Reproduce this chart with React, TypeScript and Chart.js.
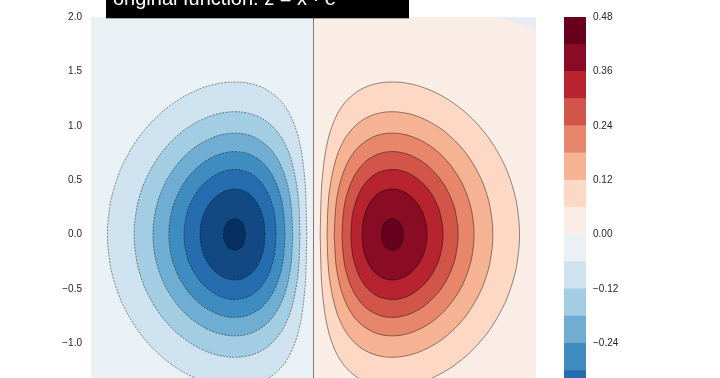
import React, { useEffect, useRef } from "react";
import { Chart, registerables } from "chart.js";

Chart.register(...registerables);

const FONT = '"Liberation Sans", Arial, "DejaVu Sans", sans-serif';

// contour levels of the filled contour plot
const levels = [-0.48, -0.42, -0.36, -0.3, -0.24, -0.18, -0.12, -0.06, 0, 0.06, 0.12, 0.18, 0.24, 0.3, 0.36, 0.42, 0.48];
// colour of each band between consecutive levels (RdBu_r)
const bandColors = [
  "#053061", "#124983", "#266daf", "#3e8cc0", "#6faed2", "#a2cde3", "#cee3ef", "#eaf1f5",
  "#f9ede6", "#fdd8c4", "#f6b393", "#e7866a", "#d15548", "#b82330", "#890b24", "#67001f",
];
const colorbarTicks = [0.48, 0.36, 0.24, 0.12, 0, -0.12, -0.24, -0.36, -0.48];
const xRange = [-2, 2];
const yRange = [-2, 2];

// Upper halves (y >= 0) of the contour lines of the positive lobe.
// The negative lobe is its mirror image (dashed contours, blue bands).
const contour06 = [[0.06, 0], [0.07, 0.386], [0.08, 0.53], [0.1, 0.708], [0.12, 0.824], [0.15, 0.945], [0.2, 1.079], [0.25, 1.168], [0.3, 1.233], [0.4, 1.318], [0.5, 1.368], [0.6, 1.394], [0.7, 1.402], [0.8, 1.397], [0.9, 1.378], [1.0, 1.347], [1.1, 1.303], [1.2, 1.247], [1.3, 1.177], [1.4, 1.091], [1.5, 0.984], [1.6, 0.851], [1.7, 0.674], [1.75, 0.557], [1.8, 0.401], [1.83, 0.262], [1.852, 0]];
const contour12 = [[0.122, 0], [0.13, 0.251], [0.15, 0.448], [0.2, 0.686], [0.25, 0.819], [0.3, 0.909], [0.4, 1.022], [0.5, 1.085], [0.6, 1.118], [0.7, 1.129], [0.8, 1.121], [0.9, 1.098], [1.0, 1.058], [1.1, 1.003], [1.2, 0.929], [1.3, 0.832], [1.4, 0.705], [1.5, 0.525], [1.55, 0.395], [1.59, 0.236], [1.612, 0]];
const contour18 = [[0.186, 0], [0.2, 0.256], [0.22, 0.39], [0.25, 0.516], [0.3, 0.649], [0.35, 0.737], [0.4, 0.799], [0.5, 0.878], [0.6, 0.919], [0.7, 0.932], [0.8, 0.923], [0.9, 0.894], [1.0, 0.845], [1.1, 0.775], [1.2, 0.676], [1.3, 0.536], [1.35, 0.439], [1.4, 0.302], [1.43, 0.166], [1.443, 0]];
const contour24 = [[0.256, 0], [0.27, 0.212], [0.3, 0.365], [0.35, 0.505], [0.4, 0.592], [0.45, 0.653], [0.5, 0.696], [0.6, 0.746], [0.7, 0.762], [0.8, 0.751], [0.9, 0.715], [1.0, 0.654], [1.1, 0.559], [1.15, 0.494], [1.2, 0.412], [1.25, 0.296], [1.28, 0.189], [1.3, 0]];
const contour30 = [[0.336, 0], [0.345, 0.144], [0.36, 0.23], [0.4, 0.357], [0.45, 0.451], [0.5, 0.511], [0.55, 0.551], [0.6, 0.577], [0.7, 0.598], [0.8, 0.584], [0.9, 0.537], [1.0, 0.452], [1.05, 0.388], [1.1, 0.299], [1.14, 0.188], [1.164, 0]];
const contour36 = [[0.435, 0], [0.45, 0.144], [0.5, 0.28], [0.55, 0.348], [0.6, 0.388], [0.65, 0.41], [0.7, 0.418], [0.75, 0.414], [0.8, 0.398], [0.85, 0.37], [0.9, 0.326], [0.95, 0.261], [1.0, 0.147], [1.02, 0]];
const contour42 = [[0.609, 0], [0.63, 0.093], [0.65, 0.119], [0.7, 0.144], [0.75, 0.132], [0.78, 0.103], [0.81, 0]];

const contourLevels = [0.06, 0.12, 0.18, 0.24, 0.3, 0.36, 0.42];
const contourHalves = [contour06, contour12, contour18, contour24, contour30, contour36, contour42];

// the two background bands (level 0 splits them), right one misses the top-right corner
const leftBand = [[-2, -2], [0, -2], [0, 2], [-2, 2], [-2, -2]];
const rightBand = [[0, -2], [2, -2], [2, 1.88], [1.65, 2], [0, 2], [0, -2]];
const zeroContour = [[0, -2], [0, 2]];

const titleMain = "original function: z = x \u00b7 e";
const titleExponent = "\u2212x\u00b2\u2212y\u00b2";

const LINE_COLOR = "rgba(0,0,0,0.62)";

const toPoints = (arr: number[][]) => arr.map(([x, y]) => ({ x, y }));
function closedLoop(half: number[][], sign: number) {
  const up = half.map(([x, y]) => ({ x: sign * x, y }));
  const down = half
    .slice(0, -1)
    .reverse()
    .map(([x, y]) => ({ x: sign * x, y: -y }));
  return [...up, ...down];
}

function buildDatasets() {
  const ds: any[] = [];
  const base = { pointRadius: 0, pointHoverRadius: 0, fill: "shape" };
  ds.push({ ...base, data: toPoints(leftBand), backgroundColor: bandColors[7], borderColor: "transparent", borderWidth: 0, tension: 0 });
  ds.push({ ...base, data: toPoints(rightBand), backgroundColor: bandColors[8], borderColor: "transparent", borderWidth: 0, tension: 0 });
  contourLevels.forEach((lv, i) => {
    const k = levels.indexOf(-lv) - 1;
    ds.push({
      ...base,
      data: closedLoop(contourHalves[i], -1),
      backgroundColor: bandColors[k],
      borderColor: LINE_COLOR,
      borderWidth: 0.7,
      borderDash: [2, 1.2],
      tension: 0.4,
    });
  });
  contourLevels.forEach((lv, i) => {
    const k = levels.indexOf(lv);
    ds.push({
      ...base,
      data: closedLoop(contourHalves[i], 1),
      backgroundColor: bandColors[k],
      borderColor: LINE_COLOR,
      borderWidth: 0.7,
      tension: 0.4,
    });
  });
  ds.push({ ...base, fill: false, data: toPoints(zeroContour), borderColor: LINE_COLOR, borderWidth: 0.8, tension: 0 });
  ds.forEach((d, i) => (d.order = ds.length - i));
  return ds;
}

const fmt = (v: number, d: number) => Number(v).toFixed(d).replace("-", "\u2212");

const axesBgPlugin = {
  id: "axesBg",
  beforeDraw(chart: any) {
    const { ctx, chartArea: a } = chart;
    ctx.save();
    ctx.fillStyle = "#eaeaf2";
    ctx.fillRect(a.left, a.top, a.right - a.left, a.bottom - a.top);
    ctx.restore();
  },
};

const titlePlugin = {
  id: "titleBox",
  afterDraw(chart: any) {
    const { ctx, chartArea: a } = chart;
    ctx.save();
    const left = a.left + 15;
    ctx.fillStyle = "#000";
    ctx.fillRect(left, -10, 303, a.top + 11.3);
    ctx.fillStyle = "#fff";
    ctx.textBaseline = "alphabetic";
    ctx.textAlign = "left";
    ctx.font = `20px ${FONT}`;
    ctx.fillText(titleMain, left + 7, 5);
    const w = ctx.measureText(titleMain).width;
    ctx.font = `14px ${FONT}`;
    ctx.fillText(titleExponent, left + 8 + w, -4);
    ctx.restore();
  },
};

export default function App() {
  const mainRef = useRef<HTMLCanvasElement>(null);
  const cbRef = useRef<HTMLCanvasElement>(null);

  useEffect(() => {
    const main = new Chart(mainRef.current as HTMLCanvasElement, {
      type: "line",
      data: { datasets: buildDatasets() },
      options: {
        animation: false,
        responsive: false,
        events: [],
        layout: { padding: { left: 0, right: 184, top: 17, bottom: 18 } },
        plugins: {
          legend: { display: false },
          tooltip: { enabled: false },
          filler: { propagate: false, drawTime: "beforeDatasetDraw" },
        } as any,
        scales: {
          x: { type: "linear", min: xRange[0], max: xRange[1], display: false },
          y: {
            type: "linear",
            min: yRange[0],
            max: yRange[1],
            afterFit: (axis: any) => {
              axis.width = 91;
            },
            grid: { display: false, drawTicks: false },
            border: { display: false },
            ticks: {
              stepSize: 0.5,
              padding: 9,
              color: "#262626",
              font: { family: FONT, size: 10 },
              callback: (v: any) => fmt(v, 1),
            },
          },
        },
      } as any,
      plugins: [axesBgPlugin, titlePlugin],
    });

    const cb = new Chart(cbRef.current as HTMLCanvasElement, {
      type: "bar",
      data: {
        labels: [""],
        datasets: bandColors.map((c, k) => ({
          data: [[levels[k], levels[k + 1]]],
          backgroundColor: c,
          borderWidth: 0,
          grouped: false,
          barPercentage: 1,
          categoryPercentage: 1,
        })) as any,
      },
      options: {
        animation: false,
        responsive: false,
        events: [],
        layout: { padding: { left: 564, right: 0, top: 17, bottom: 18 } },
        plugins: { legend: { display: false }, tooltip: { enabled: false } },
        scales: {
          x: { display: false },
          y: {
            position: "right",
            min: levels[0],
            max: levels[levels.length - 1],
            afterFit: (axis: any) => {
              axis.width = 134;
            },
            afterBuildTicks: (axis: any) => {
              axis.ticks = colorbarTicks.map((v) => ({ value: v }));
            },
            grid: { display: false, drawTicks: false },
            border: { display: false },
            ticks: {
              padding: 7,
              color: "#262626",
              font: { family: FONT, size: 10 },
              callback: (v: any) => fmt(v, 2),
            },
          },
        },
      } as any,
    });

    return () => {
      main.destroy();
      cb.destroy();
    };
  }, []);

  return (
    <div style={{ position: "fixed", left: 0, top: 0, width: 720, height: 378, overflow: "hidden", background: "#fff" }}>
      <canvas ref={mainRef} width={720} height={470} style={{ position: "absolute", left: 0, top: 0 }} />
      <canvas ref={cbRef} width={720} height={470} style={{ position: "absolute", left: 0, top: 0 }} />
    </div>
  );
}
